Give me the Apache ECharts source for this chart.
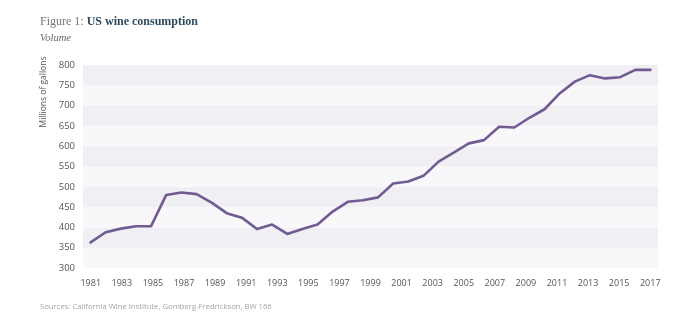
<!DOCTYPE html>
<html>
<head>
<meta charset="utf-8">
<script src="https://cdn.jsdelivr.net/npm/echarts@6/dist/echarts.min.js"></script>
<style>
  html, body { margin: 0; padding: 0; background: #ffffff; }
  #chart { width: 700px; height: 330px; }
</style>
</head>
<body>
<div id="chart"></div>
<script>
// Tick labels along the bottom axis
var yearLabels = ['1981','1982','1983','1984','1985','1986','1987','1988','1989','1990',
  '1991','1992','1993','1994','1995','1996','1997','1998','1999','2000',
  '2001','2002','2003','2004','2005','2006','2007','2008','2009','2010',
  '2011','2012','2013','2014','2015','2016','2017'];

// Annual wine consumption, millions of gallons (38 plotted observations)
var volume = [363, 388, 397, 403, 403, 480, 486, 482, 461, 435,
  424, 396, 407, 384, 396, 407, 439, 463, 467, 474,
  508, 513, 527, 562, 584, 607, 615, 648, 646, 670,
  691, 730, 759, 775, 767, 770, 788, 788];

// Positions of the plotted observations on the hidden line axis
var obsIndex = volume.map(function (_, i) { return String(i); });

// Value-axis ticks
var yMin = 300, yMax = 800, yStep = 50;

var chart = echarts.init(document.getElementById('chart'), null, { renderer: 'canvas' });

chart.setOption({
  backgroundColor: '#ffffff',
  animation: false,
  title: [{
    left: 40, top: 16, padding: 0,
    text: '{a|Figure 1: }{b|US wine consumption}',
    textStyle: {
      rich: {
        a: { fontFamily: 'Liberation Serif', fontSize: 12, fontWeight: 'normal', color: '#767676' },
        b: { fontFamily: 'Liberation Serif', fontSize: 12, fontWeight: 'bold', color: '#2e4a60' }
      }
    }
  }, {
    left: 40, top: 33, padding: 0,
    text: 'Volume',
    textStyle: { fontFamily: 'Liberation Serif', fontStyle: 'italic', fontWeight: 'normal', fontSize: 10.5, color: '#666666' }
  }, {
    left: 40, top: 303, padding: 0,
    text: 'Sources: California Wine Institute, Gomberg-Fredrickson, BW 166',
    textStyle: { fontFamily: 'Open Sans', fontWeight: 'normal', fontSize: 7.7, color: '#a3a3aa' }
  }],
  graphic: [{
    type: 'text',
    x: 44, y: 92,
    rotation: Math.PI / 2,
    style: {
      text: 'Millions of gallons',
      fontFamily: 'Open Sans', fontSize: 8.5, fill: '#555555',
      align: 'center', verticalAlign: 'middle'
    }
  }],
  grid: { left: 83, right: 42, top: 65, bottom: 62 },
  xAxis: [{
    type: 'category',
    data: yearLabels,
    boundaryGap: true,
    position: 'bottom',
    axisLine: { show: false },
    axisTick: { show: false },
    axisLabel: {
      interval: 1, margin: 11,
      fontFamily: 'Open Sans', fontSize: 9, color: '#555555'
    },
    splitLine: { show: false }
  }, {
    type: 'category',
    data: obsIndex,
    boundaryGap: true,
    show: false
  }],
  yAxis: {
    type: 'value',
    min: yMin, max: yMax, interval: yStep,
    axisLine: { show: false },
    axisTick: { show: false },
    splitLine: { show: false },
    splitArea: { show: true, areaStyle: { color: ['#f8f8fa', '#efeff4'] } },
    axisLabel: {
      margin: 8,
      fontFamily: 'Open Sans', fontSize: 9.5, color: '#555555',
      padding: [0, 0, 8, 0]
    }
  },
  series: [{
    type: 'line',
    xAxisIndex: 1,
    data: volume,
    showSymbol: false,
    symbol: 'none',
    lineStyle: { color: '#725a92', width: 2.6, cap: 'round', join: 'round' }
  }]
});
</script>
</body>
</html>
